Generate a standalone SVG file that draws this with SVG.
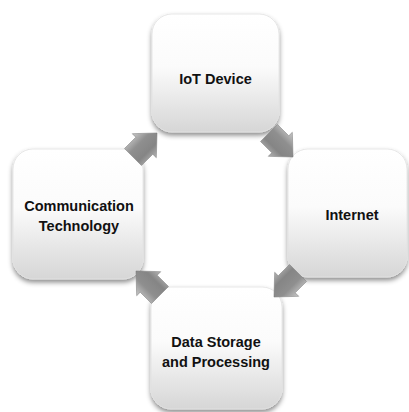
<svg xmlns="http://www.w3.org/2000/svg" width="409" height="412" viewBox="0 0 409 412">
<defs>
<linearGradient id="boxGrad" x1="0" y1="0" x2="0" y2="1">
<stop offset="0" stop-color="#ffffff"/>
<stop offset="0.45" stop-color="#fbfbfb"/>
<stop offset="1" stop-color="#d6d6d6"/>
</linearGradient>
<linearGradient id="arrowGrad" x1="0" y1="0" x2="0" y2="1">
<stop offset="0" stop-color="#c9c9c9"/>
<stop offset="0.35" stop-color="#8f8f8f"/>
<stop offset="0.7" stop-color="#858585"/>
<stop offset="1" stop-color="#b5b5b5"/>
</linearGradient>
<filter id="shadow" x="-20%" y="-20%" width="140%" height="150%">
<feDropShadow dx="0" dy="3" stdDeviation="2.5" flood-color="#000" flood-opacity="0.45"/>
</filter>
<path id="arrow" d="M-17,-12 L-1,-12 L-1,-17 L17,0 L-1,17 L-1,12 L-17,12 Z"/>
</defs>
<style>
.box{fill:url(#boxGrad);stroke:#e2e2e2;stroke-width:0.8;filter:url(#shadow);}
.lbl{font-family:"Liberation Sans",Arial,sans-serif;font-weight:bold;font-size:14.5px;fill:#111;text-anchor:middle;}
.arr{fill:url(#arrowGrad);stroke:#7a7a7a;stroke-width:0.5;}
</style>
<rect width="409" height="412" fill="#ffffff"/>
<g id="node-iot">
<rect class="box" x="152" y="14" width="127" height="118" rx="20"/>
<text class="lbl" x="215.5" y="84">IoT Device</text>
</g>
<g id="node-internet">
<rect class="box" x="288" y="149" width="119" height="128" rx="20"/>
<text class="lbl" x="352" y="220">Internet</text>
</g>
<g id="node-storage">
<rect class="box" x="151" y="287" width="131" height="122" rx="20"/>
<text class="lbl" x="216" y="347">Data Storage</text>
<text class="lbl" x="216" y="367">and Processing</text>
</g>
<g id="node-comm">
<rect class="box" x="13" y="149" width="130" height="130" rx="20"/>
<text class="lbl" x="79" y="211">Communication</text>
<text class="lbl" x="79" y="231">Technology</text>
</g>
<g id="connectors">
<use href="#arrow" class="arr" transform="translate(145,145) rotate(-45)"/>
<use href="#arrow" class="arr" transform="translate(281,145) rotate(45)"/>
<use href="#arrow" class="arr" transform="translate(286,285) rotate(135)"/>
<use href="#arrow" class="arr" transform="translate(148,283) rotate(-135)"/>
</g>
</svg>
